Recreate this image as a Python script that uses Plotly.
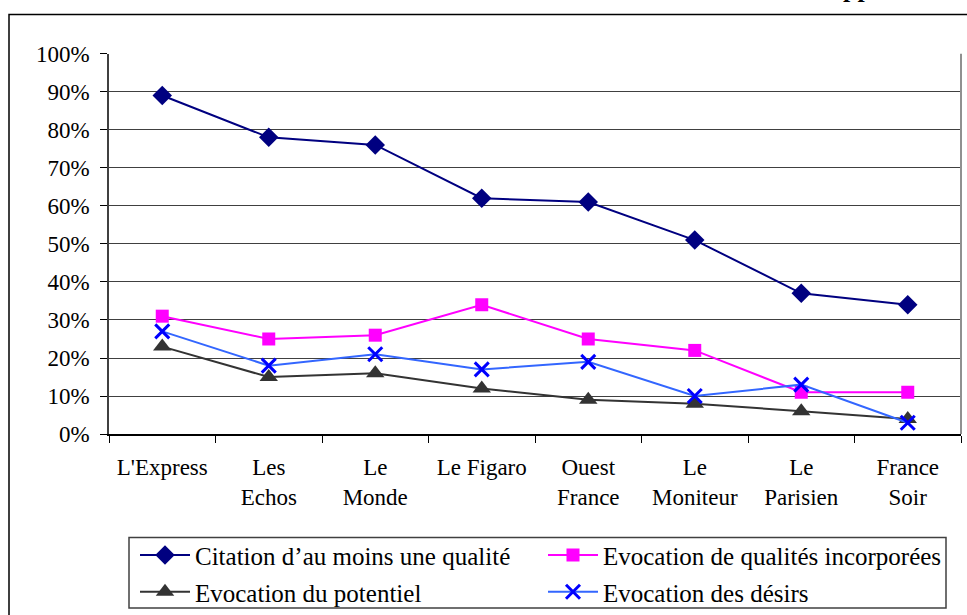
import plotly.graph_objects as go

W, H = 967, 615
H_EFF = 604  # effective rendered height observed for paper coordinates

categories = ["L'Express", "Les<br>Echos", "Le<br>Monde", "Le Figaro", "Ouest<br>France",
              "Le<br>Moniteur", "Le<br>Parisien", "France<br>Soir"]
citation = [89, 78, 76, 62, 61, 51, 37, 34]
qualites = [31, 25, 26, 34, 25, 22, 11, 11]
potentiel = [23, 15, 16, 12, 9, 8, 6, 4]
desirs = [27, 18, 21, 17, 19, 10, 13, 3]
y_ticks = [0, 10, 20, 30, 40, 50, 60, 70, 80, 90, 100]
y_ticklabels = [f"{v}%" for v in y_ticks]

FONT = "Liberation Serif, Times New Roman, serif"

def px(x):
    return x / W

def py(y):
    return 1 - y / H_EFF

fig = go.Figure()
fig.add_trace(go.Scatter(x=categories, y=citation, name="Citation d’au moins une qualité",
                         mode="lines+markers", line=dict(color="#000080", width=2),
                         marker=dict(symbol="diamond", size=15, color="#000080"),
                         legend="legend"))
fig.add_trace(go.Scatter(x=categories, y=qualites, name="Evocation de qualités incorporées",
                         mode="lines+markers", line=dict(color="#FF00FF", width=2),
                         marker=dict(symbol="square", size=13, color="#FF00FF"),
                         legend="legend"))
fig.add_trace(go.Scatter(x=categories, y=potentiel, name="Evocation du potentiel",
                         mode="lines+markers", line=dict(color="#333333", width=2),
                         marker=dict(symbol="triangle-up", size=16, color="#333333"),
                         legend="legend2"))
fig.add_trace(go.Scatter(x=categories, y=desirs, name="Evocation des désirs",
                         mode="lines+markers", line=dict(color="#3366FF", width=2),
                         marker=dict(symbol="x-thin", size=14, color="#0000FF",
                                     line=dict(color="#0000FF", width=3)),
                         legend="legend2"))

legend_common = dict(orientation="h", x=px(135), xanchor="left", yanchor="middle",
                     borderwidth=0, bgcolor="rgba(0,0,0,0)",
                     font=dict(family=FONT, size=25), entrywidth=343,
                     entrywidthmode="pixels", traceorder="normal", itemwidth=50)

fig.update_layout(
    width=W, height=H, autosize=False,
    margin=dict(l=0, r=0, t=0, b=0),
    paper_bgcolor="white", plot_bgcolor="white",
    font=dict(family=FONT, size=23, color="black"),
    xaxis=dict(domain=[px(109), px(961)], type="category", range=[-0.5, 7.5],
               automargin=False,
               showgrid=False, showline=True, linecolor="black", linewidth=2,
               ticks="outside", tickson="boundaries", ticklen=7, tickcolor="black",
               ticklabelstandoff=11,
               tickfont=dict(family=FONT, size=23), mirror=False),
    yaxis=dict(domain=[py(437), py(54)], range=[0, 100], tickvals=y_ticks,
               automargin=False,
               ticktext=y_ticklabels, showgrid=True, gridcolor="#404040", gridwidth=1,
               showline=True, linecolor="#404040", linewidth=1.5,
               ticks="outside", ticklen=7, tickcolor="black", zeroline=False,
               ticklabelstandoff=6,
               tickfont=dict(family=FONT, size=23)),
    legend=dict(legend_common, y=py(559)),
    legend2=dict(legend_common, y=py(596)),
    shapes=[
        dict(type="line", xref="paper", yref="paper", x0=px(961), x1=px(961), y0=py(437), y1=py(54),
             line=dict(color="#909090", width=2)),
        dict(type="rect", xref="paper", yref="paper", x0=px(9), x1=1.05, y0=-0.05, y1=py(14.5),
             line=dict(color="black", width=1.5)),
        dict(type="rect", xref="paper", yref="paper", x0=px(129), x1=px(946), y0=py(612), y1=py(541),
             line=dict(color="#404040", width=1.5)),
    ],
    annotations=[
        dict(text="<b>pp</b>", xref="paper", yref="paper", x=px(857), y=py(5),
             xanchor="center", yanchor="bottom", showarrow=False,
             font=dict(family=FONT, size=26, color="black")),
    ],
)

fig.write_html("out.html", config=dict(displayModeBar=False, responsive=False),
               post_script="document.body.style.margin='0';")
